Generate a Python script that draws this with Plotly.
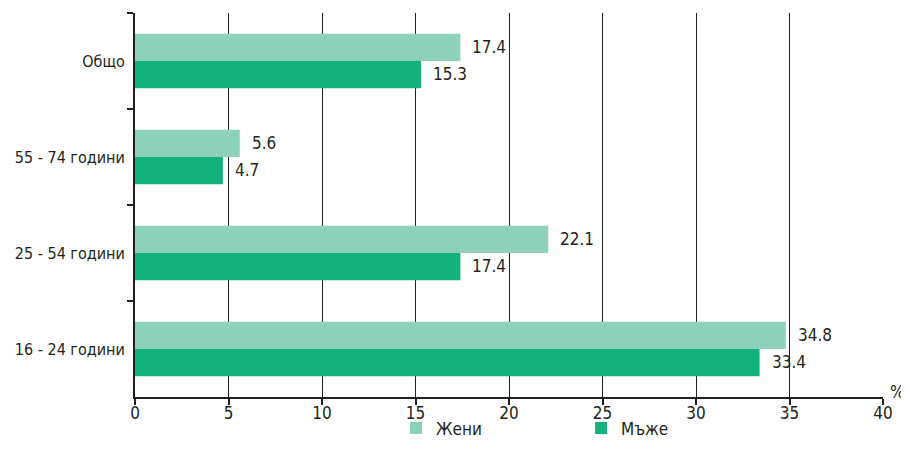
import plotly.graph_objects as go

categories = ["Общо", "55 - 74 години", "25 - 54 години", "16 - 24 години"]
women = [17.4, 5.6, 22.1, 34.8]
men = [15.3, 4.7, 17.4, 33.4]
series_names = ["Жени", "Мъже"]
x_ticks = [0, 5, 10, 15, 20, 25, 30, 35, 40]

FONT = "DejaVu Sans Condensed, Liberation Sans Narrow, Roboto Condensed, Roboto, sans-serif"
LIGHT = "#8dd1b8"
DARK = "#14b27b"
TXT = "#231f20"

fig = go.Figure()
fig.add_trace(go.Bar(y=categories, x=women, name=series_names[0], orientation="h",
                     marker=dict(color=LIGHT, line=dict(width=0))))
fig.add_trace(go.Bar(y=categories, x=men, name=series_names[1], orientation="h",
                     marker=dict(color=DARK, line=dict(width=0))))

annotations = []
for vals, shift in ((women, 14), (men, -13)):
    for c, v in zip(categories, vals):
        annotations.append(dict(x=v, y=c, xref="x", yref="y", text=f"{v:.1f}",
                                showarrow=False, xanchor="left", yanchor="middle",
                                xshift=10, yshift=shift,
                                font=dict(family=FONT, size=17, color=TXT)))
annotations.append(dict(x=1, y=0, xref="paper", yref="paper", text="%",
                        showarrow=False, xanchor="left", yanchor="bottom",
                        xshift=5, yshift=-7,
                        font=dict(family=FONT, size=17, color=TXT)))

# page body has an 8px default margin, so the figure is sized to fit the window
fig.update_layout(
    width=901, height=456,
    margin=dict(l=127, r=26, t=5, b=67, autoexpand=False),
    paper_bgcolor="white", plot_bgcolor="white",
    barmode="group", bargap=0.43, bargroupgap=0,
    font=dict(family=FONT, size=17, color=TXT),
    showlegend=True,
    legend=dict(orientation="h", x=0.349, xanchor="left", y=-0.035, yanchor="top",
                entrywidth=140, itemwidth=30, bgcolor="rgba(0,0,0,0)",
                font=dict(family=FONT, size=17, color=TXT)),
    annotations=annotations,
    xaxis=dict(range=[0, 40], tickvals=x_ticks, showgrid=True, gridcolor=TXT,
               gridwidth=1.2, showline=True, linecolor=TXT, linewidth=1.5,
               ticks="outside", ticklen=6, tickcolor=TXT, tickwidth=1.5,
               zeroline=False, automargin=False, ticklabelstandoff=-6,
               tickfont=dict(family=FONT, size=17, color=TXT)),
    yaxis=dict(autorange="reversed", showline=True, linecolor=TXT, linewidth=2,
               ticks="outside", tickson="boundaries", ticklen=6, tickcolor=TXT,
               tickwidth=2, showgrid=False, ticklabelstandoff=5, automargin=False,
               tickfont=dict(family=FONT, size=16, color=TXT)),
)

fig.write_html("out.html")
